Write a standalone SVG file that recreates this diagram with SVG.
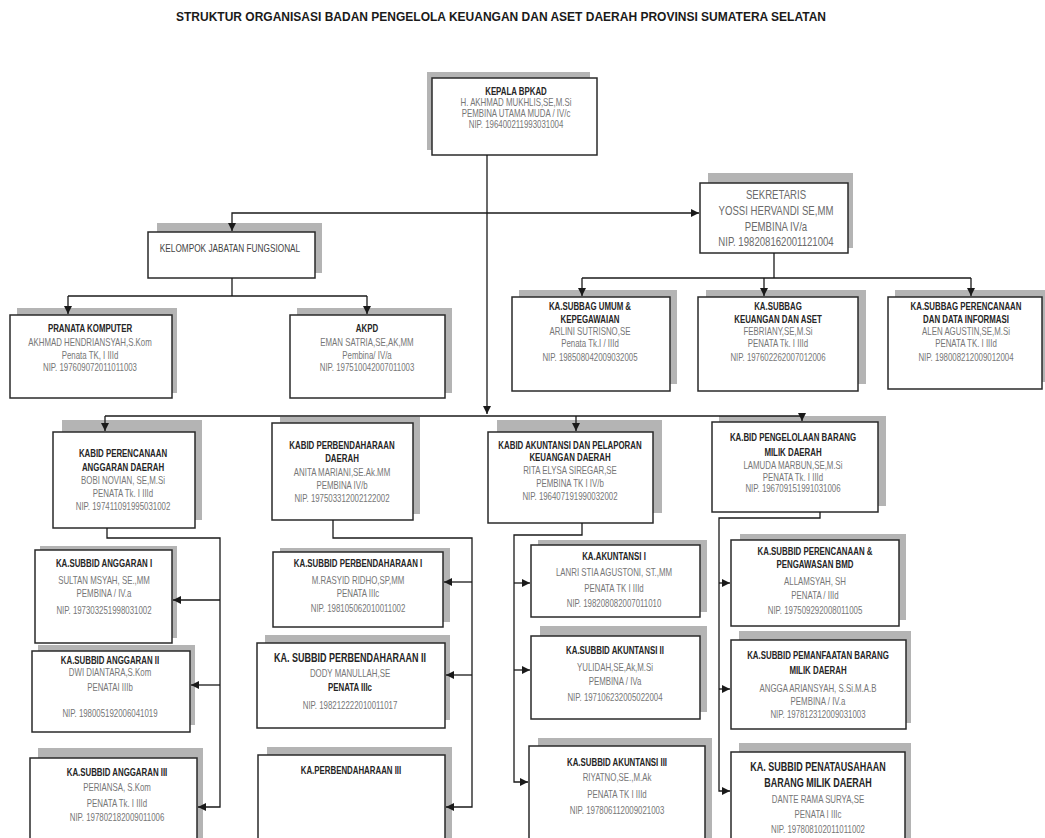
<svg xmlns="http://www.w3.org/2000/svg" width="1045" height="838" viewBox="0 0 1045 838">
<style>
text{font-family:"Liberation Sans",Arial,sans-serif;text-anchor:middle}
.title{font-size:12.5px;font-weight:bold;fill:#1a1a1a}
.sh{fill:#b4b4b4}
.bx{fill:#fff;stroke:#2a2a2a;stroke-width:1.5}
.b{font-size:10.5px;font-weight:bold;fill:#252525}
.bb{font-size:12px;font-weight:bold;fill:#252525}
.r{font-size:10.5px;fill:#767676}
.s{font-size:12px;fill:#6a6a6a}
.k{font-size:11px;fill:#444}
.ln{fill:none;stroke:#1a1a1a;stroke-width:1.3}
</style>
<defs>
<marker id="ar" markerWidth="8" markerHeight="8" refX="8" refY="4" orient="auto" markerUnits="userSpaceOnUse">
<path d="M0,0 L8,4 L0,8 z" fill="#1a1a1a"/>
</marker>
</defs>
<rect width="1045" height="838" fill="#fff"/>
<text class="title" x="501" y="21" textLength="650" lengthAdjust="spacingAndGlyphs">STRUKTUR ORGANISASI BADAN PENGELOLA KEUANGAN DAN ASET DAERAH PROVINSI SUMATERA SELATAN</text>

<g id="kepala">
<rect class="sh" x="427" y="72" width="163" height="78"/>
<rect class="bx" x="432" y="78" width="165" height="77"/>
<g transform="translate(516 0) scale(.75 1)">
<text class="b" y="95">KEPALA BPKAD</text>
<text class="r" y="106">H. AKHMAD MUKHLIS,SE,M.Si</text>
<text class="r" y="117">PEMBINA UTAMA MUDA / IV/c</text>
<text class="r" y="128">NIP. 196400211993031004</text>
</g>
</g>

<g id="sekretaris">
<rect class="sh" x="708" y="173" width="145" height="75"/>
<rect class="bx" x="700" y="183" width="148" height="70"/>
<g transform="translate(776 0) scale(.8 1)">
<text class="s" y="199">SEKRETARIS</text>
<text class="s" y="215">YOSSI HERVANDI SE,MM</text>
<text class="s" y="231">PEMBINA IV/a</text>
<text class="s" y="246">NIP. 198208162001121004</text>
</g>
</g>

<g id="kelompok">
<rect class="sh" x="157" y="223" width="165" height="50"/>
<rect class="bx" x="148" y="232" width="167" height="46"/>
<g transform="translate(230 0) scale(.75 1)">
<text class="k" y="252">KELOMPOK JABATAN FUNGSIONAL</text>
</g>
</g>

<g id="pranata">
<rect class="sh" x="17" y="308" width="160" height="85"/>
<rect class="bx" x="10" y="315" width="162" height="83"/>
<g transform="translate(90 0) scale(.75 1)">
<text class="b" y="332">PRANATA KOMPUTER</text>
<text class="r" y="346">AKHMAD HENDRIANSYAH,S.Kom</text>
<text class="r" y="359">Penata TK, I IIId</text>
<text class="r" y="371">NIP. 197609072011011003</text>
</g>
</g>

<g id="akpd">
<rect class="sh" x="297" y="308" width="155" height="85"/>
<rect class="bx" x="290" y="315" width="155" height="83"/>
<g transform="translate(367 0) scale(.75 1)">
<text class="b" y="332">AKPD</text>
<text class="r" y="346">EMAN SATRIA,SE,AK,MM</text>
<text class="r" y="359">Pembina/ IV/a</text>
<text class="r" y="371">NIP. 197510042007011003</text>
</g>
</g>

<g id="subbag-umum">
<rect class="sh" x="519" y="290" width="158" height="94"/>
<rect class="bx" x="512" y="297" width="158" height="94"/>
<g transform="translate(590 0) scale(.75 1)">
<text class="b" y="310">KA.SUBBAG UMUM &amp;</text>
<text class="b" y="323">KEPEGAWAIAN</text>
<text class="r" y="335">ARLINI SUTRISNO,SE</text>
<text class="r" y="347">Penata Tk.I / IIId</text>
<text class="r" y="361">NIP. 198508042009032005</text>
</g>
</g>

<g id="subbag-keuangan">
<rect class="sh" x="706" y="290" width="160" height="94"/>
<rect class="bx" x="698" y="297" width="160" height="94"/>
<g transform="translate(778 0) scale(.75 1)">
<text class="b" y="310">KA.SUBBAG</text>
<text class="b" y="323">KEUANGAN DAN ASET</text>
<text class="r" y="335">FEBRIANY,SE,M.Si</text>
<text class="r" y="347">PENATA Tk. I IIId</text>
<text class="r" y="361">NIP. 197602262007012006</text>
</g>
</g>

<g id="subbag-perencanaan">
<rect class="sh" x="895" y="290" width="150" height="92"/>
<rect class="bx" x="888" y="297" width="154" height="92"/>
<g transform="translate(966 0) scale(.75 1)">
<text class="b" y="310">KA.SUBBAG PERENCANAAN</text>
<text class="b" y="323">DAN DATA INFORMASI</text>
<text class="r" y="335">ALEN AGUSTIN,SE,M.Si</text>
<text class="r" y="347">PENATA TK. I IIId</text>
<text class="r" y="361">NIP. 198008212009012004</text>
</g>
</g>

<g id="kabid-perencanaan">
<rect class="sh" x="62" y="420" width="140" height="100"/>
<rect class="bx" x="53" y="432" width="142" height="96"/>
<g transform="translate(123 0) scale(.75 1)">
<text class="b" y="457">KABID PERENCANAAN</text>
<text class="b" y="471">ANGGARAN DAERAH</text>
<text class="r" y="484">BOBI NOVIAN, SE,M.Si</text>
<text class="r" y="497">PENATA Tk. I IIId</text>
<text class="r" y="510">NIP. 197411091995031002</text>
</g>
</g>

<g id="kabid-perbendaharaan">
<rect class="sh" x="280" y="417" width="140" height="97"/>
<rect class="bx" x="272" y="423" width="141" height="97"/>
<g transform="translate(342 0) scale(.75 1)">
<text class="b" y="449">KABID PERBENDAHARAAN</text>
<text class="b" y="462">DAERAH</text>
<text class="r" y="476">ANITA MARIANI,SE.Ak.MM</text>
<text class="r" y="489">PEMBINA IV/b</text>
<text class="r" y="502">NIP. 197503312002122002</text>
</g>
</g>

<g id="kabid-akuntansi">
<rect class="sh" x="497" y="420" width="165" height="93"/>
<rect class="bx" x="488" y="432" width="165" height="91"/>
<g transform="translate(570 0) scale(.75 1)">
<text class="b" y="449">KABID AKUNTANSI DAN PELAPORAN</text>
<text class="b" y="461">KEUANGAN DAERAH</text>
<text class="r" y="474">RITA ELYSA SIREGAR,SE</text>
<text class="r" y="487">PEMBINA TK I IV/b</text>
<text class="r" y="500">NIP. 196407191990032002</text>
</g>
</g>

<g id="kabid-pengelolaan">
<rect class="sh" x="719" y="416" width="167" height="90"/>
<rect class="bx" x="712" y="422" width="166" height="90"/>
<g transform="translate(793 0) scale(.75 1)">
<text class="b" y="441">KA.BID PENGELOLAAN BARANG</text>
<text class="b" y="456">MILIK DAERAH</text>
<text class="r" y="469">LAMUDA MARBUN,SE,M.Si</text>
<text class="r" y="481">PENATA Tk. I IIId</text>
<text class="r" y="492">NIP. 196709151991031006</text>
</g>
</g>

<g id="subbid-anggaran-1">
<rect class="sh" x="40" y="546" width="137" height="92"/>
<rect class="bx" x="35" y="550" width="137" height="93"/>
<g transform="translate(104 0) scale(.75 1)">
<text class="b" y="567">KA.SUBBID ANGGARAN I</text>
<text class="r" y="584">SULTAN MSYAH, SE.,MM</text>
<text class="r" y="597">PEMBINA / IV.a</text>
<text class="r" y="614">NIP. 197303251998031002</text>
</g>
</g>

<g id="subbid-anggaran-2">
<rect class="sh" x="38" y="645" width="157" height="80"/>
<rect class="bx" x="32" y="651" width="158" height="81"/>
<g transform="translate(110 0) scale(.75 1)">
<text class="b" y="664">KA.SUBBID ANGGARAN II</text>
<text class="r" y="676">DWI DIANTARA,S.Kom</text>
<text class="r" y="691">PENATAI IIIb</text>
<text class="r" y="717">NIP. 198005192006041019</text>
</g>
</g>

<g id="subbid-anggaran-3">
<rect class="sh" x="38" y="748" width="165" height="95"/>
<rect class="bx" x="30" y="758" width="167" height="90"/>
<g transform="translate(117 0) scale(.75 1)">
<text class="b" y="776">KA.SUBBID ANGGARAN III</text>
<text class="r" y="791">PERIANSA, S.Kom</text>
<text class="r" y="807">PENATA Tk. I IIId</text>
<text class="r" y="821">NIP. 197802182009011006</text>
</g>
</g>

<g id="subbid-perbendaharaan-1">
<rect class="sh" x="280" y="548" width="170" height="74"/>
<rect class="bx" x="273" y="552" width="170" height="75"/>
<g transform="translate(358 0) scale(.75 1)">
<text class="b" y="567">KA.SUBBID PERBENDAHARAAN I</text>
<text class="r" y="584">M.RASYID RIDHO,SP,MM</text>
<text class="r" y="597">PENATA IIIc</text>
<text class="r" y="612">NIP. 198105062010011002</text>
</g>
</g>

<g id="subbid-perbendaharaan-2">
<rect class="sh" x="265" y="635" width="185" height="85"/>
<rect class="bx" x="257" y="643" width="188" height="85"/>
<g transform="translate(350 0) scale(.75 1)">
<text class="bb" y="662">KA. SUBBID PERBENDAHARAAN II</text>
<text class="r" y="677">DODY MANULLAH,SE</text>
<text class="b" y="691">PENATA IIIc</text>
<text class="r" y="709">NIP. 198212222010011017</text>
</g>
</g>

<g id="perbendaharaan-3">
<rect class="sh" x="267" y="747" width="185" height="95"/>
<rect class="bx" x="258" y="755" width="187" height="90"/>
<g transform="translate(351 0) scale(.75 1)">
<text class="b" y="774">KA.PERBENDAHARAAN III</text>
</g>
</g>

<g id="akuntansi-1">
<rect class="sh" x="538" y="540" width="169" height="72"/>
<rect class="bx" x="531" y="545" width="169" height="72"/>
<g transform="translate(614 0) scale(.75 1)">
<text class="b" y="560">KA.AKUNTANSI I</text>
<text class="r" y="576">LANRI STIA AGUSTONI, ST.,MM</text>
<text class="r" y="592">PENATA TK I IIId</text>
<text class="r" y="607">NIP. 198208082007011010</text>
</g>
</g>

<g id="subbid-akuntansi-2">
<rect class="sh" x="540" y="626" width="167" height="86"/>
<rect class="bx" x="531" y="636" width="169" height="83"/>
<g transform="translate(615 0) scale(.75 1)">
<text class="b" y="654">KA.SUBBID AKUNTANSI II</text>
<text class="r" y="671">YULIDAH,SE,Ak,M.Si</text>
<text class="r" y="685">PEMBINA / IVa</text>
<text class="r" y="701">NIP. 197106232005022004</text>
</g>
</g>

<g id="subbid-akuntansi-3">
<rect class="sh" x="538" y="738" width="174" height="105"/>
<rect class="bx" x="529" y="746" width="176" height="100"/>
<g transform="translate(617 0) scale(.75 1)">
<text class="b" y="766">KA.SUBBID AKUNTANSI III</text>
<text class="r" y="781">RIYATNO,SE.,M.Ak</text>
<text class="r" y="798">PENATA TK I IIId</text>
<text class="r" y="814">NIP. 197806112009021003</text>
</g>
</g>

<g id="subbid-perencanaan-bmd">
<rect class="sh" x="740" y="534" width="166" height="86"/>
<rect class="bx" x="731" y="540" width="168" height="86"/>
<g transform="translate(815 0) scale(.75 1)">
<text class="b" y="555">KA.SUBBID PERENCANAAN &amp;</text>
<text class="b" y="568">PENGAWASAN BMD</text>
<text class="r" y="585">ALLAMSYAH, SH</text>
<text class="r" y="599">PENATA / IIId</text>
<text class="r" y="614">NIP. 197509292008011005</text>
</g>
</g>

<g id="subbid-pemanfaatan">
<rect class="sh" x="739" y="631" width="172" height="92"/>
<rect class="bx" x="731" y="640" width="175" height="89"/>
<g transform="translate(818 0) scale(.75 1)">
<text class="b" y="659">KA.SUBBID PEMANFAATAN BARANG</text>
<text class="b" y="674">MILIK DAERAH</text>
<text class="r" y="692">ANGGA ARIANSYAH, S.Si.M.A.B</text>
<text class="r" y="705">PEMBINA / IV.a</text>
<text class="r" y="718">NIP. 197812312009031003</text>
</g>
</g>

<g id="subbid-penatausahaan">
<rect class="sh" x="739" y="743" width="172" height="100"/>
<rect class="bx" x="731" y="752" width="174" height="95"/>
<g transform="translate(818 0) scale(.75 1)">
<text class="bb" y="771">KA. SUBBID PENATAUSAHAAN</text>
<text class="bb" y="787">BARANG MILIK DAERAH</text>
<text class="r" y="803">DANTE RAMA SURYA,SE</text>
<text class="r" y="818">PENATA I IIIc</text>
<text class="r" y="833">NIP. 197808102011011002</text>
</g>
</g>

<g id="connectors" class="ln">
<path d="M487 155 V414" marker-end="url(#ar)"/>
<path d="M487 213 H699" marker-end="url(#ar)"/>
<path d="M487 213 H232 V231" marker-end="url(#ar)"/>
<path d="M774 253 V278"/>
<path d="M582 278 H971"/>
<path d="M582 278 V296" marker-end="url(#ar)"/>
<path d="M764 278 V296" marker-end="url(#ar)"/>
<path d="M971 278 V296" marker-end="url(#ar)"/>
<path d="M232 278 V296"/>
<path d="M68 296 H367"/>
<path d="M68 296 V314" marker-end="url(#ar)"/>
<path d="M367 296 V314" marker-end="url(#ar)"/>
<path d="M105 416 H802"/>
<path d="M105 416 V431" marker-end="url(#ar)"/>
<path d="M576 416 V431" marker-end="url(#ar)"/>
<path d="M802 416 V421" marker-end="url(#ar)"/>
<path d="M107 528 V538 H220 V807 H198" marker-end="url(#ar)"/>
<path d="M220 600 H173" marker-end="url(#ar)"/>
<path d="M220 685 H191" marker-end="url(#ar)"/>
<path d="M333 520 V538 H472 V807 H446" marker-end="url(#ar)"/>
<path d="M472 582 H444" marker-end="url(#ar)"/>
<path d="M472 675 H446" marker-end="url(#ar)"/>
<path d="M582 523 V535 H514 V782 H528" marker-end="url(#ar)"/>
<path d="M514 583 H530" marker-end="url(#ar)"/>
<path d="M514 670 H530" marker-end="url(#ar)"/>
<path d="M820 512 V518 H719 V791 H730" marker-end="url(#ar)"/>
<path d="M719 583 H730" marker-end="url(#ar)"/>
<path d="M719 689 H730" marker-end="url(#ar)"/>
</g>
</svg>
